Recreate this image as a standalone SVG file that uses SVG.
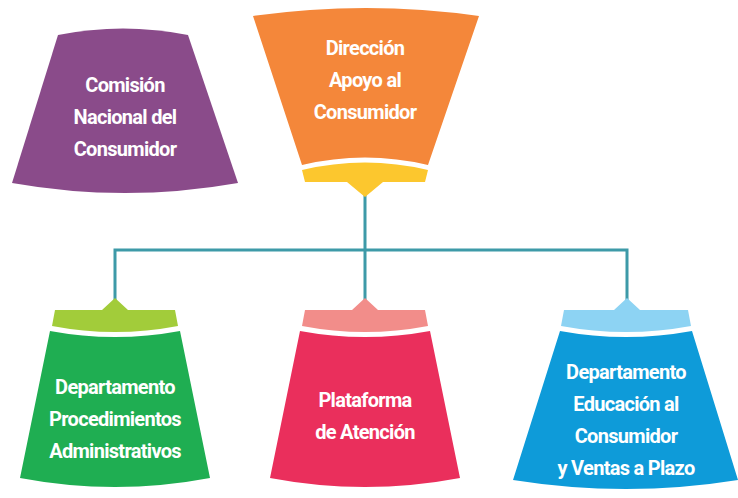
<svg xmlns="http://www.w3.org/2000/svg" width="738" height="498" viewBox="0 0 738 498">
<style>
text{font-family:Roboto,"Liberation Sans",sans-serif;font-weight:bold;font-size:20px;letter-spacing:-0.7px;fill:#fff;text-anchor:middle}
.ln{fill:none;stroke:#3d9aa8;stroke-width:3}
</style>
<rect width="738" height="498" fill="#fff"/>
<g id="connectors">
<path class="ln" d="M365,195 V250 M115,300 V250 H627 V300 M365,250 V300"/>
</g>
<g id="comision">
<path d="M58,35 Q123,22 188,35 L238,183 Q125,203 12,183 Z" fill="#8a4b8a"/>
<text x="125" y="92">Comisión</text><text x="125" y="124">Nacional del</text><text x="125" y="156">Consumidor</text>
</g>
<g id="direccion">
<path d="M253,16 Q366,0 479,16 L428,165 Q365,150 302,165 Z" fill="#f4873a"/>
<path d="M302,170 Q365,155 428,170 L425,182 L383,182 L365,197 L347,182 L305,182 Z" fill="#fcc72e"/>
<text x="365" y="55">Dirección</text><text x="365" y="87">Apoyo al</text><text x="365" y="119">Consumidor</text>
</g>
<g id="procedimientos">
<path d="M55,310 L102,310 L115,298 L128,310 L175,310 L178,326 Q115,338 52,326 Z" fill="#a2cc3a"/>
<path d="M50,331 Q115,343 180,331 L210,478 Q115,496 20,478 Z" fill="#1fae52"/>
<text x="115" y="394">Departamento</text><text x="115" y="426">Procedimientos</text><text x="115" y="458">Administrativos</text>
</g>
<g id="plataforma">
<path d="M305,310 L352,310 L365,298 L378,310 L425,310 L428,326 Q365,338 302,326 Z" fill="#f28d8a"/>
<path d="M300,331 Q365,343 430,331 L460,478 Q365,496 270,478 Z" fill="#ea2f5c"/>
<text x="365" y="407">Plataforma</text><text x="365" y="439">de Atención</text>
</g>
<g id="educacion">
<path d="M564,310 L614,310 L627,298 L640,310 L688,310 L691,326 Q626,338 561,326 Z" fill="#8dd3f3"/>
<path d="M560,331 Q626,343 692,331 L738,480 Q626,498 513,480 Z" fill="#0e9bd9"/>
<text x="626" y="379">Departamento</text><text x="626" y="411">Educación al</text><text x="626" y="443">Consumidor</text><text x="626" y="475">y Ventas a Plazo</text>
</g>
</svg>
